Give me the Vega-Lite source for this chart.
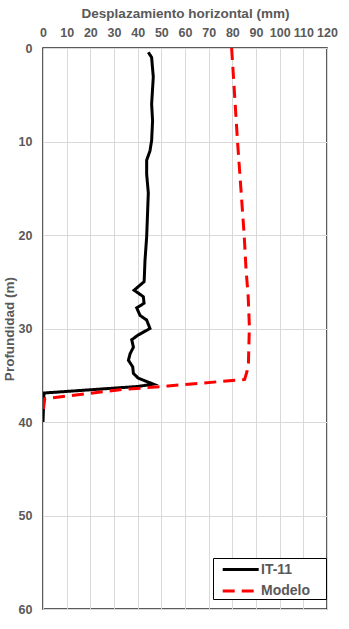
{
  "$schema": "https://vega.github.io/schema/vega-lite/v6.json",
  "width": 284,
  "height": 561,
  "autosize": {"type": "none"},
  "padding": {"left": 43, "top": 48, "right": 22, "bottom": 20},
  "background": "white",
  "config": {
    "font": "Liberation Sans",
    "view": {"stroke": "#262626", "strokeWidth": 1.5},
    "axis": {
      "labelFont": "Liberation Sans",
      "labelFontWeight": "bold",
      "labelFontSize": 12.5,
      "labelColor": "#595959",
      "titleFont": "Liberation Sans",
      "titleFontWeight": "bold",
      "titleFontSize": 13.5,
      "titleColor": "#595959",
      "gridColor": "#d9d9d9",
      "gridWidth": 1,
      "domain": false,
      "ticks": false
    }
  },
  "data": {
    "values": [
      {"serie": "IT-11", "x": 44.5, "y": 0.46},
      {"serie": "IT-11", "x": 45.9, "y": 1.0},
      {"serie": "IT-11", "x": 46.6, "y": 3.1},
      {"serie": "IT-11", "x": 45.9, "y": 6.0},
      {"serie": "IT-11", "x": 46.3, "y": 7.8},
      {"serie": "IT-11", "x": 45.9, "y": 9.9},
      {"serie": "IT-11", "x": 45.2, "y": 11.0},
      {"serie": "IT-11", "x": 43.8, "y": 12.0},
      {"serie": "IT-11", "x": 43.8, "y": 13.5},
      {"serie": "IT-11", "x": 44.5, "y": 15.5},
      {"serie": "IT-11", "x": 43.8, "y": 20.2},
      {"serie": "IT-11", "x": 43.1, "y": 22.7},
      {"serie": "IT-11", "x": 42.8, "y": 24.6},
      {"serie": "IT-11", "x": 42.7, "y": 25.0},
      {"serie": "IT-11", "x": 38.5, "y": 25.9},
      {"serie": "IT-11", "x": 42.4, "y": 26.6},
      {"serie": "IT-11", "x": 42.7, "y": 27.3},
      {"serie": "IT-11", "x": 39.6, "y": 27.8},
      {"serie": "IT-11", "x": 41.0, "y": 28.6},
      {"serie": "IT-11", "x": 43.8, "y": 29.1},
      {"serie": "IT-11", "x": 45.2, "y": 30.0},
      {"serie": "IT-11", "x": 40.2, "y": 30.7},
      {"serie": "IT-11", "x": 37.5, "y": 31.2},
      {"serie": "IT-11", "x": 38.2, "y": 32.0},
      {"serie": "IT-11", "x": 36.8, "y": 32.7},
      {"serie": "IT-11", "x": 36.1, "y": 33.4},
      {"serie": "IT-11", "x": 37.9, "y": 34.1},
      {"serie": "IT-11", "x": 38.2, "y": 34.8},
      {"serie": "IT-11", "x": 40.2, "y": 35.3},
      {"serie": "IT-11", "x": 46.6, "y": 35.95},
      {"serie": "IT-11", "x": 40.1, "y": 36.2},
      {"serie": "IT-11", "x": 0.4, "y": 36.9},
      {"serie": "IT-11", "x": 0.0, "y": 40.0},
      {"serie": "Modelo", "x": 79.7, "y": 0.0},
      {"serie": "Modelo", "x": 82.2, "y": 10.0},
      {"serie": "Modelo", "x": 85.0, "y": 20.0},
      {"serie": "Modelo", "x": 85.8, "y": 23.7},
      {"serie": "Modelo", "x": 86.7, "y": 26.6},
      {"serie": "Modelo", "x": 87.2, "y": 29.8},
      {"serie": "Modelo", "x": 86.8, "y": 33.7},
      {"serie": "Modelo", "x": 86.2, "y": 34.6},
      {"serie": "Modelo", "x": 85.2, "y": 35.45},
      {"serie": "Modelo", "x": 52.8, "y": 36.15},
      {"serie": "Modelo", "x": 32.5, "y": 36.55},
      {"serie": "Modelo", "x": 0.7, "y": 37.5},
      {"serie": "Modelo", "x": 0.0, "y": 39.05}
    ]
  },
  "mark": {"type": "line", "strokeWidth": 3, "clip": true},
  "encoding": {
    "x": {
      "field": "x",
      "type": "quantitative",
      "scale": {"domain": [0, 120], "nice": false},
      "axis": {
        "orient": "top",
        "values": [0, 10, 20, 30, 40, 50, 60, 70, 80, 90, 100, 110, 120],
        "labelOverlap": false,
        "labelPadding": 9,
        "labelBound": false,
        "labelFlush": false,
        "title": "Desplazamiento horizontal (mm)",
        "titlePadding": 6
      }
    },
    "y": {
      "field": "y",
      "type": "quantitative",
      "scale": {"domain": [0, 60], "reverse": true, "nice": false},
      "axis": {
        "values": [0, 10, 20, 30, 40, 50, 60],
        "labelPadding": 11,
        "labelFlush": false,
        "title": "Profundidad (m)",
        "titlePadding": 2
      }
    },
    "order": {"field": "y", "type": "quantitative"},
    "color": {
      "field": "serie",
      "type": "nominal",
      "scale": {"domain": ["IT-11", "Modelo"], "range": ["#000000", "#ff0000"]},
      "legend": {
        "title": "\u00a0",
        "titleOrient": "right",
        "titlePadding": 15,
        "titleFontSize": 8,
        "orient": "none",
        "legendX": 170,
        "legendY": 510,
        "strokeColor": "#000000",
        "fillColor": "#ffffff",
        "padding": 1,
        "symbolType": "M-0.2,0H3.8",
        "symbolSize": 324,
        "symbolStrokeWidth": 3,
        "labelFont": "Liberation Sans",
        "labelFontWeight": "bold",
        "labelFontSize": 14,
        "labelColor": "#595959",
        "labelOffset": 26,
        "rowPadding": 3.5
      }
    },
    "strokeDash": {
      "field": "serie",
      "type": "nominal",
      "scale": {"domain": ["IT-11", "Modelo"], "range": [[1, 0], [12, 7]]},
      "legend": null
    }
  }
}
